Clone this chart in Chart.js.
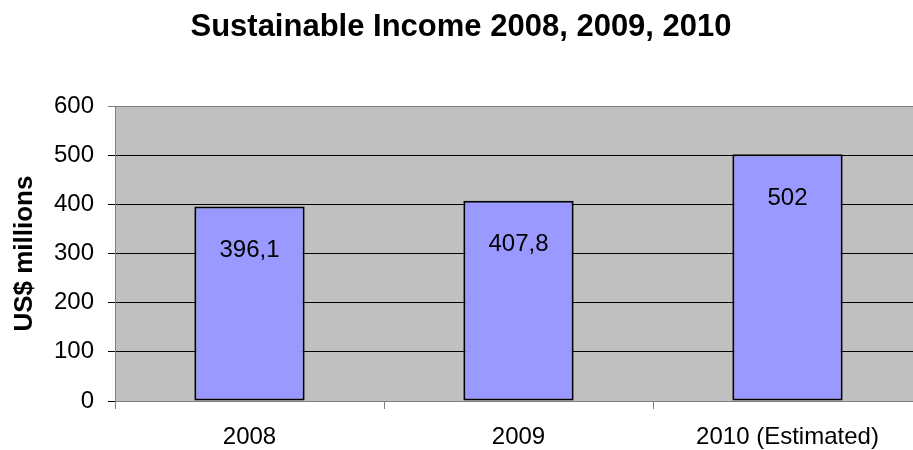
<!DOCTYPE html>
<html>
<head>
<meta charset="utf-8">
<script src="https://cdn.jsdelivr.net/npm/chart.js@4"></script>
<style>
html, body { margin: 0; padding: 0; background: #fff; overflow: hidden; width: 913px; height: 450px; }
#wrap { width: 926px; height: 450px; }
</style>
</head>
<body>
<div id="wrap"><canvas id="c" width="926" height="450"></canvas></div>
<script>
const categories = ['2008', '2009', '2010 (Estimated)'];
const incomeValues = [396.1, 407.8, 502];
const valueLabels = ['396,1', '407,8', '502'];
const chartTitle = 'Sustainable Income 2008, 2009, 2010';
const yAxisTitle = 'US$ millions';

const FONT = "Arial, 'Liberation Sans', sans-serif";

const plotBg = {
  id: 'plotBg',
  beforeDraw(chart) {
    const a = chart.chartArea, ctx = chart.ctx;
    ctx.save();
    ctx.fillStyle = '#c0c0c0';
    ctx.fillRect(a.left, a.top, a.right - a.left, a.bottom - a.top);
    ctx.restore();
  }
};

const barLabels = {
  id: 'barLabels',
  afterDatasetsDraw(chart) {
    const ctx = chart.ctx;
    const meta = chart.getDatasetMeta(0);
    ctx.save();
    ctx.font = '24px ' + FONT;
    ctx.fillStyle = '#000';
    ctx.textAlign = 'center';
    ctx.textBaseline = 'middle';
    meta.data.forEach((bar, i) => {
      ctx.fillText(valueLabels[i], bar.x, bar.y + 44);
    });
    ctx.restore();
  }
};

new Chart(document.getElementById('c'), {
  type: 'bar',
  data: {
    labels: categories,
    datasets: [{
      data: incomeValues,
      backgroundColor: '#9999ff',
      borderColor: '#000000',
      borderWidth: 2,
      borderSkipped: false,
      barPercentage: 0.41,
      categoryPercentage: 1
    }]
  },
  options: {
    responsive: false,
    animation: false,
    devicePixelRatio: 1,
    layout: { padding: { left: 0, right: 4, top: 0, bottom: 0 } },
    plugins: {
      legend: { display: false },
      tooltip: { enabled: false },
      title: {
        display: true,
        text: chartTitle,
        color: '#000',
        font: { family: FONT, size: 31, weight: 'bold', lineHeight: 1.2 },
        padding: { top: 9, bottom: 60 }
      }
    },
    scales: {
      x: {
        afterFit(scale) { scale.height = 49; },
        grid: {
          offset: true,
          drawOnChartArea: false,
          drawTicks: true,
          tickLength: 8,
          color: '#808080'
        },
        border: { display: true, color: '#808080', width: 1 },
        ticks: {
          color: '#000',
          font: { family: FONT, size: 24 },
          padding: 14,
          maxRotation: 0
        }
      },
      y: {
        min: 0,
        max: 600,
        afterFit(scale) { scale.width = 115; },
        ticks: {
          stepSize: 100,
          color: '#000',
          font: { family: FONT, size: 24 },
          padding: 14
        },
        grid: {
          color: (c) => (c.tick && c.tick.value === 600 ? '#808080' : '#000000'),
          lineWidth: 1,
          tickLength: 7
        },
        border: { display: true, color: '#808080', width: 1 },
        title: {
          display: true,
          text: yAxisTitle,
          color: '#000',
          font: { family: FONT, size: 26, weight: 'bold', lineHeight: 1.2 },
          padding: { top: 9, bottom: 0 }
        }
      }
    }
  },
  plugins: [plotBg, barLabels]
});
</script>
</body>
</html>
